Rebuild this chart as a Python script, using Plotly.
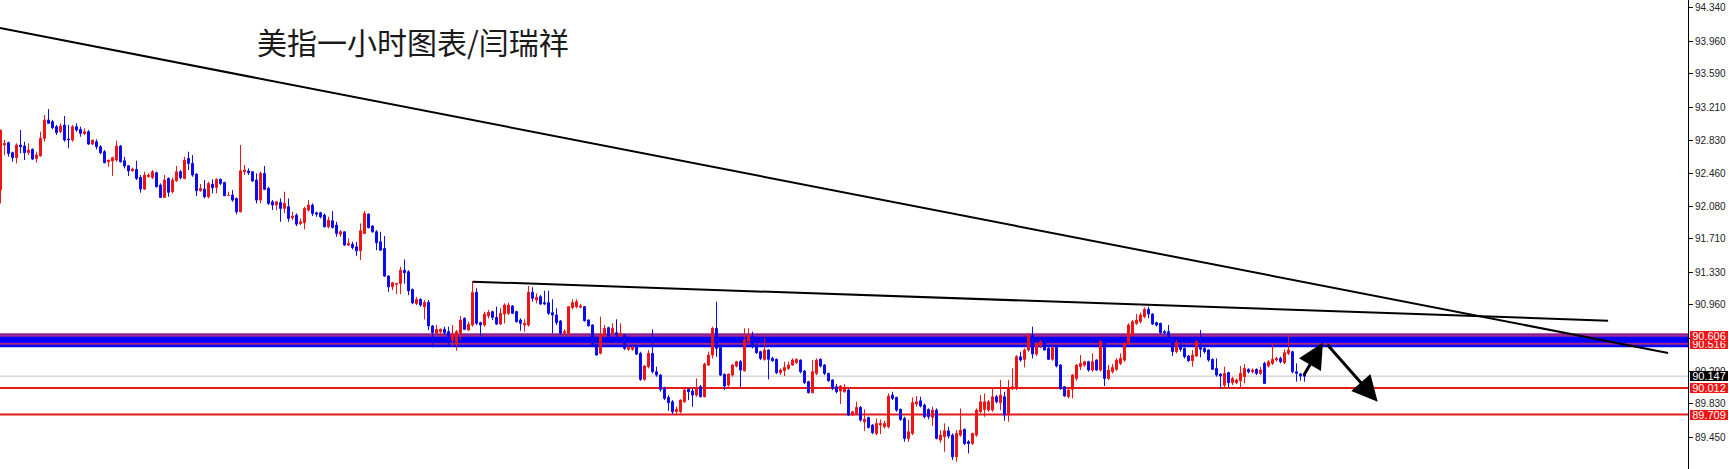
import plotly.graph_objects as go

# ---------------- data (US dollar index, 1-hour candles) ----------------
opens = [
92.266,92.779,92.806,92.692,92.635,92.779,92.768,92.695,92.730,92.627,
92.657,92.855,93.064,93.045,92.988,92.931,93.007,92.847,92.836,92.988,
92.958,92.908,92.931,92.790,92.817,92.760,92.703,92.589,92.597,92.608,
92.768,92.600,92.543,92.486,92.502,92.410,92.277,92.418,92.410,92.464,
92.323,92.182,92.399,92.247,92.372,92.475,92.399,92.627,92.570,92.448,
92.258,92.277,92.190,92.334,92.296,92.388,92.353,92.205,92.209,92.171,
92.019,92.475,92.483,92.475,92.380,92.152,92.456,92.285,92.133,92.095,
92.125,92.057,92.076,91.951,91.981,91.886,91.894,92.038,92.095,92.008,
92.008,91.981,91.848,91.916,91.867,91.764,91.791,91.639,91.650,91.620,
91.574,91.772,91.992,91.856,91.791,91.677,91.601,91.286,91.164,91.194,
91.202,91.354,91.335,91.134,90.974,
91.022,90.938,90.987,90.718,90.634,90.653,90.680,90.653,90.558,90.520,
90.634,90.805,90.672,90.729,91.101,90.756,90.729,90.832,90.881,90.816,
90.740,90.854,90.862,90.946,90.881,90.786,90.729,90.729,91.101,91.014,
91.052,90.984,90.984,90.870,90.843,90.775,90.642,90.634,90.927,90.938,
90.930,90.938,90.786,90.729,90.512,90.406,90.604,90.699,90.626,90.642,
90.604,90.615,90.452,90.452,90.490,90.406,90.110,90.254,90.406,90.197,
90.159,90.007,89.904,89.855,89.741,89.741,89.855,89.996,89.977,89.931,
90.026,89.912,90.273,90.387,90.691,90.474,90.167,90.045,90.159,90.262,
90.311,90.208,90.539,90.604,90.490,90.425,90.338,90.444,90.349,90.338,
90.186,90.208,90.235,90.273,90.300,90.330,90.205,90.083,89.958,90.178,
90.338,90.273,90.178,90.102,90.026,89.977,89.969,89.988,
89.714,89.722,89.790,89.627,89.676,89.589,89.494,89.589,89.570,89.570,
89.931,89.904,89.768,89.665,89.437,89.494,89.828,89.866,89.817,89.768,
89.676,89.760,89.418,89.456,89.524,89.475,89.228,89.475,89.540,89.399,
89.380,89.475,89.741,89.768,89.760,89.760,89.912,89.844,89.912,89.703,
90.003,90.007,90.368,90.338,90.444,90.615,90.398,90.490,90.550,90.463,
90.338,90.474,90.273,90.026,89.912,89.996,90.121,90.254,90.273,90.311,
90.216,90.330,90.216,90.520,90.121,90.197,90.224,90.292,90.330,90.512,
90.615,90.748,90.767,90.824,90.908,90.854,90.756,90.748,90.653,90.653,
90.577,90.425,90.501,90.463,90.376,90.322,90.376,90.474,90.463,90.444,
90.338,90.235,90.170,90.045,90.186,90.072,90.072,90.094,90.140,90.224,
90.197,90.224,90.178,90.292,90.262,90.292,90.330,90.349,90.300,90.406,
90.425,90.197,90.171,90.160,
]

highs = [
92.950,92.836,92.817,92.703,92.798,92.950,92.817,92.798,92.741,92.703,
92.931,93.121,93.189,93.064,93.007,93.026,93.110,93.007,93.007,93.026,
92.988,92.969,92.950,92.836,92.844,92.779,92.722,92.608,92.646,92.828,
92.779,92.646,92.551,92.521,92.600,92.437,92.475,92.456,92.494,92.475,
92.342,92.437,92.410,92.410,92.540,92.494,92.646,92.703,92.665,92.456,
92.334,92.380,92.361,92.388,92.399,92.399,92.361,92.247,92.266,92.182,
92.779,92.551,92.513,92.483,92.456,92.475,92.540,92.304,92.152,92.133,
92.171,92.247,92.171,92.019,92.000,91.943,92.076,92.152,92.114,92.019,
92.019,92.000,91.962,92.027,91.905,91.810,91.791,91.715,91.677,91.677,
91.886,92.027,92.000,91.867,91.810,91.791,91.742,91.297,91.221,91.210,
91.392,91.476,91.354,91.145,91.050,
91.033,91.014,91.014,90.729,90.729,90.691,90.710,90.710,90.729,90.672,
90.832,90.816,90.767,91.223,91.147,90.767,90.881,90.900,90.892,90.938,
90.919,90.976,90.984,90.957,90.892,90.805,90.794,91.174,91.158,91.090,
91.071,91.120,91.120,91.022,90.919,90.786,90.680,90.946,91.022,91.022,
90.968,90.946,90.794,90.737,90.520,90.824,90.729,90.710,90.748,90.794,
90.748,90.626,90.501,90.490,90.501,90.425,90.273,90.444,90.680,90.254,
90.170,90.026,89.931,89.874,89.798,89.882,90.007,90.007,90.007,90.121,
90.045,90.300,90.425,90.710,90.995,90.482,90.178,90.178,90.284,90.322,
90.330,90.691,90.691,90.653,90.577,90.436,90.577,90.452,90.368,90.349,
90.235,90.311,90.311,90.349,90.349,90.338,90.216,90.094,90.330,90.349,
90.349,90.284,90.186,90.110,90.056,90.045,90.056,90.007,
89.752,89.855,89.806,89.768,89.684,89.600,89.665,89.654,89.638,89.950,
89.969,89.912,89.779,89.684,89.646,89.904,89.920,89.912,89.836,89.779,
89.798,89.779,89.532,89.608,89.570,89.494,89.532,89.779,89.551,89.418,
89.502,89.779,89.931,89.950,89.874,90.007,89.931,90.102,89.969,90.102,
90.235,90.387,90.425,90.463,90.634,90.710,90.539,90.558,90.566,90.482,
90.490,90.490,90.284,90.034,90.007,90.170,90.284,90.387,90.322,90.322,
90.406,90.338,90.558,90.539,90.273,90.284,90.349,90.406,90.539,90.748,
90.786,90.854,90.870,90.930,90.938,90.862,90.767,90.756,90.672,90.729,
90.588,90.558,90.520,90.474,90.387,90.444,90.558,90.672,90.482,90.452,
90.349,90.349,90.178,90.254,90.197,90.140,90.121,90.262,90.284,90.235,
90.235,90.235,90.254,90.311,90.330,90.520,90.368,90.368,90.452,90.604,
90.436,90.292,90.186,90.179,
]

lows = [
92.114,92.665,92.646,92.589,92.570,92.684,92.608,92.665,92.608,92.578,
92.646,92.817,93.026,92.958,92.893,92.912,92.817,92.741,92.817,92.931,
92.874,92.893,92.779,92.779,92.730,92.673,92.570,92.532,92.429,92.589,
92.578,92.513,92.426,92.475,92.380,92.236,92.266,92.410,92.391,92.296,
92.179,92.179,92.190,92.228,92.361,92.388,92.388,92.494,92.418,92.198,
92.247,92.171,92.171,92.228,92.228,92.323,92.198,92.198,92.133,91.989,
92.011,92.437,92.437,92.361,92.114,92.114,92.266,92.095,92.038,92.038,
91.905,92.000,91.905,91.924,91.856,91.867,91.818,92.019,91.970,91.962,
91.943,91.840,91.829,91.829,91.734,91.734,91.631,91.628,91.590,91.517,
91.468,91.764,91.829,91.780,91.582,91.574,91.278,91.107,91.126,91.080,
91.080,91.202,91.069,90.966,90.955,
90.938,90.794,90.672,90.474,90.615,90.604,90.615,90.490,90.482,90.436,
90.558,90.672,90.664,90.710,90.729,90.604,90.710,90.805,90.786,90.729,
90.729,90.748,90.843,90.854,90.756,90.664,90.653,90.710,90.995,90.976,
90.957,90.957,90.843,90.634,90.729,90.615,90.615,90.615,90.908,90.919,
90.919,90.767,90.710,90.490,90.379,90.395,90.588,90.588,90.615,90.588,
90.588,90.444,90.436,90.436,90.387,90.094,90.094,90.235,90.178,90.140,
89.969,89.874,89.752,89.714,89.703,89.722,89.844,89.874,89.798,89.912,
89.904,89.904,90.262,90.349,90.368,90.148,89.988,90.026,90.140,90.246,
90.018,90.197,90.520,90.463,90.398,90.330,90.322,90.110,90.311,90.170,
90.159,90.148,90.216,90.262,90.284,90.178,90.056,89.950,89.950,90.159,
90.246,90.159,90.083,89.988,89.950,89.828,89.958,89.692,
89.692,89.703,89.627,89.524,89.551,89.486,89.475,89.486,89.551,89.551,
89.874,89.741,89.638,89.399,89.399,89.475,89.798,89.790,89.665,89.654,
89.578,89.426,89.388,89.285,89.437,89.190,89.171,89.456,89.361,89.266,
89.361,89.456,89.722,89.684,89.741,89.741,89.836,89.760,89.638,89.627,
89.988,89.988,90.311,90.246,90.425,90.349,90.376,90.463,90.436,90.330,
90.322,90.246,89.988,89.912,89.893,89.893,90.094,90.216,90.254,90.197,
90.197,90.208,90.197,90.034,90.102,90.178,90.208,90.273,90.311,90.501,
90.604,90.729,90.748,90.805,90.805,90.729,90.710,90.626,90.615,90.558,
90.376,90.406,90.425,90.349,90.311,90.254,90.368,90.360,90.406,90.311,
90.216,90.140,90.007,90.007,90.018,90.045,90.056,90.007,90.064,90.178,
90.178,90.159,90.159,90.056,90.246,90.273,90.311,90.292,90.284,90.387,
90.178,90.083,90.095,90.084,
]

closes = [
92.950,92.798,92.684,92.635,92.779,92.760,92.692,92.722,92.619,92.665,
92.855,93.064,93.026,92.977,92.920,92.996,92.836,92.840,92.988,92.950,
92.912,92.931,92.790,92.836,92.760,92.692,92.578,92.608,92.635,92.768,
92.589,92.540,92.483,92.505,92.399,92.277,92.437,92.437,92.475,92.304,
92.182,92.380,92.240,92.380,92.475,92.407,92.608,92.570,92.437,92.258,
92.285,92.190,92.342,92.293,92.388,92.342,92.201,92.205,92.152,92.019,
92.486,92.494,92.464,92.369,92.152,92.456,92.274,92.114,92.095,92.133,
92.057,92.114,91.943,91.970,91.878,91.905,92.057,92.095,92.000,91.992,
91.962,91.848,91.924,91.840,91.772,91.791,91.639,91.658,91.612,91.574,
91.802,92.000,91.840,91.791,91.666,91.582,91.286,91.164,91.210,91.202,
91.354,91.324,91.118,90.982,91.020,
90.957,90.987,90.718,90.642,90.680,90.680,90.642,90.577,90.626,90.653,
90.786,90.680,90.737,91.101,90.748,90.729,90.854,90.873,90.816,90.740,
90.862,90.957,90.957,90.862,90.767,90.748,90.748,91.101,91.033,91.044,
90.968,90.968,90.862,90.843,90.756,90.634,90.653,90.938,90.984,90.995,
90.946,90.778,90.721,90.501,90.387,90.615,90.691,90.604,90.691,90.615,
90.634,90.463,90.474,90.474,90.398,90.110,90.262,90.406,90.197,90.159,
89.996,89.893,89.844,89.741,89.768,89.874,89.988,89.969,89.931,90.007,
89.912,90.284,90.387,90.691,90.463,90.159,90.034,90.170,90.273,90.311,
90.216,90.558,90.604,90.482,90.414,90.349,90.444,90.338,90.322,90.186,
90.216,90.246,90.273,90.330,90.338,90.197,90.072,89.958,90.197,90.330,
90.262,90.178,90.094,90.007,89.969,90.034,90.007,89.703,
89.741,89.790,89.646,89.657,89.562,89.502,89.608,89.608,89.608,89.920,
89.893,89.760,89.654,89.437,89.513,89.844,89.855,89.806,89.684,89.684,
89.760,89.437,89.475,89.524,89.464,89.228,89.494,89.532,89.380,89.380,
89.494,89.760,89.855,89.855,89.855,89.912,89.855,89.931,89.703,90.007,
90.026,90.368,90.330,90.444,90.615,90.398,90.512,90.539,90.444,90.338,
90.474,90.262,90.007,89.920,89.988,90.159,90.273,90.292,90.311,90.216,
90.311,90.216,90.539,90.121,90.216,90.246,90.330,90.349,90.520,90.729,
90.767,90.786,90.843,90.908,90.854,90.740,90.729,90.642,90.642,90.577,
90.425,90.528,90.452,90.368,90.322,90.387,90.539,90.452,90.425,90.330,
90.224,90.159,90.148,90.178,90.072,90.121,90.102,90.178,90.235,90.197,
90.216,90.178,90.216,90.064,90.311,90.338,90.349,90.311,90.414,90.444,
90.197,90.178,90.149,90.147,
]

bars = list(range(len(opens)))            # hourly bar index

tick_vals = [94.340, 93.960, 93.590, 93.210, 92.830, 92.460, 92.080,
             91.710, 91.330, 90.960, 90.580, 90.200, 89.830, 89.450]
tick_text = [f"{v:.3f}" for v in tick_vals]

zone_levels = [90.606, 90.516]            # resistance zone lines
zone_rect = [90.476, 90.626]              # blue zone rectangle
support_levels = [90.012, 89.709]         # red support lines
bid_price = 90.147

trend_long_x = [-0.125, 416.9]
trend_long_y = [94.112, 90.411]
trend_short_x = [118, 401.9]
trend_short_y = [91.223, 90.779]

arrow_up_tail = (325.6, 90.141)
arrow_up_tip = (330.6, 90.528)
arrow_down_tail = (331.4, 90.521)
arrow_down_tip = (344.3, 89.856)

title_text = "美指一小时图表/闫瑞祥"

# ---------------- style ----------------
RED = "#f01414"
BLUE = "#0c0cf0"
ZONE_BLUE = "#0000ff"
ZONE_LINE = "#a0288c"
LEVEL_RED = "#e21a1a"
AX_FONT = dict(family="Liberation Sans", size=10, color="#222222")

fig = go.Figure()
fig.add_trace(go.Candlestick(
    x=bars, open=opens, high=highs, low=lows, close=closes,
    increasing=dict(line=dict(color=RED, width=1), fillcolor=RED),
    decreasing=dict(line=dict(color=BLUE, width=1), fillcolor=BLUE),
    whiskerwidth=0, hoverinfo="skip", showlegend=False,
))

shapes = []
shapes.append(dict(type="rect", xref="x domain", x0=0, x1=1, yref="y",
                   y0=zone_rect[0], y1=zone_rect[1], fillcolor=ZONE_BLUE,
                   line=dict(width=0), layer="below"))
shapes.append(dict(type="line", xref="x domain", x0=0, x1=1, yref="y",
                   y0=zone_rect[1], y1=zone_rect[1], line=dict(color=ZONE_LINE, width=1.5),
                   layer="below"))
for lv in zone_levels:
    shapes.append(dict(type="line", xref="x domain", x0=0, x1=1, yref="y",
                       y0=lv, y1=lv, line=dict(color=ZONE_LINE, width=2), layer="below"))
for lv in support_levels:
    shapes.append(dict(type="line", xref="x domain", x0=0, x1=1, yref="y",
                       y0=lv, y1=lv, line=dict(color=LEVEL_RED, width=2), layer="below"))
shapes.append(dict(type="line", xref="x domain", x0=0, x1=1, yref="y",
                   y0=bid_price, y1=bid_price, line=dict(color="#c0c0c0", width=1), layer="below"))
shapes.append(dict(type="line", xref="x", yref="y",
                   x0=trend_long_x[0], x1=trend_long_x[1], y0=trend_long_y[0], y1=trend_long_y[1],
                   line=dict(color="black", width=2)))
shapes.append(dict(type="line", xref="x", yref="y",
                   x0=trend_short_x[0], x1=trend_short_x[1], y0=trend_short_y[0], y1=trend_short_y[1],
                   line=dict(color="black", width=2)))

annotations = []
annotations.append(dict(xref="paper", yref="paper", x=255 / 1688, y=1 - 41 / 469,
                        xanchor="left", yanchor="middle", showarrow=False, text=title_text,
                        font=dict(family="Noto Sans CJK SC", size=30, color="#1a1a1a")))
for tail, tip in [(arrow_up_tail, arrow_up_tip), (arrow_down_tail, arrow_down_tip)]:
    annotations.append(dict(x=tip[0], y=tip[1], ax=tail[0], ay=tail[1], xref="x", yref="y",
                            axref="x", ayref="y", text="", showarrow=True, arrowhead=2,
                            arrowsize=1.7, arrowwidth=3, arrowcolor="black", standoff=0))

def price_box(val, bg):
    return dict(xref="paper", x=1, xanchor="left", xshift=2, yref="y", y=val, yanchor="middle",
                text=f"{val:.3f}", showarrow=False, bgcolor=bg, width=38, height=10,
                borderpad=0, borderwidth=0, align="center",
                font=dict(family="Liberation Sans", size=11, color="white"))

annotations.append(price_box(zone_levels[1], RED))
annotations.append(price_box(zone_levels[0], RED))
annotations.append(price_box(bid_price, "#000000"))
for lv in support_levels:
    annotations.append(price_box(lv, RED))

fig.update_layout(
    width=1730, height=469, autosize=False,
    margin=dict(l=0, r=42, t=0, b=0, pad=0),
    paper_bgcolor="white", plot_bgcolor="white",
    shapes=shapes, annotations=annotations,
    boxgap=0.3,
    xaxis=dict(range=[-0.125, 421.875], visible=False, rangeslider=dict(visible=False),
               fixedrange=True),
    yaxis=dict(range=[89.089, 94.431], side="right", showgrid=False, zeroline=False,
               showline=True, linecolor="black", linewidth=1, ticks="outside", ticklen=4,
               tickcolor="black", tickvals=tick_vals, ticktext=tick_text, tickfont=AX_FONT,
               automargin=False, fixedrange=True),
    showlegend=False,
)

fig.write_html(
    "out.html",
    config={"displayModeBar": False, "staticPlot": True},
    post_script="document.body.style.margin='0px';document.body.style.overflow='hidden';",
)
